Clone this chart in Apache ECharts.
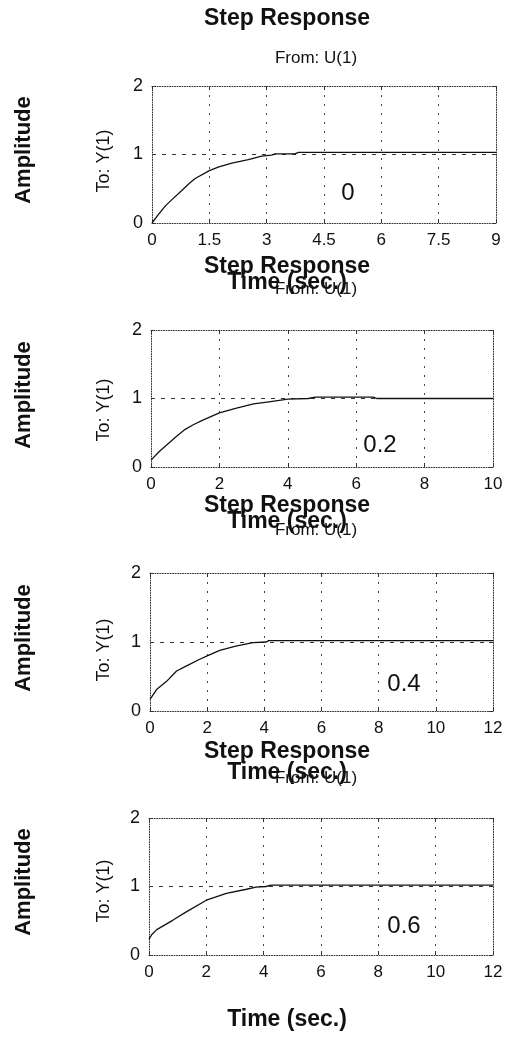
<!DOCTYPE html>
<html>
<head>
<meta charset="utf-8">
<script src="https://cdn.jsdelivr.net/npm/echarts@6/dist/echarts.min.js"></script>
<style>
  html, body { margin: 0; padding: 0; background: #fff; }
  #chart { width: 507px; height: 1041px; }
</style>
</head>
<body>
<div id="chart"></div>
<script>
// Step responses of the same loop for four parameter values.
const panelParams = ['0', '0.2', '0.4', '0.6'];

const xTicks1 = ['0', '1.5', '3', '4.5', '6', '7.5', '9'];
const xTicks2 = ['0', '2', '4', '6', '8', '10'];
const xTicks3 = ['0', '2', '4', '6', '8', '10', '12'];
const xTicks4 = ['0', '2', '4', '6', '8', '10', '12'];
const yTicks = ['0', '1', '2'];

const time1 = [0, 0.15, 0.35, 0.5, 0.78, 1.0, 1.13, 1.5, 1.75, 2.09, 2.52, 2.87, 3.0, 3.13, 3.22, 3.74, 3.83, 9];
const resp1 = [0, 0.11, 0.25, 0.33, 0.475, 0.59, 0.65, 0.765, 0.82, 0.875, 0.925, 0.975, 0.985, 0.99, 1.01, 1.01, 1.03, 1.03];

const time2 = [0, 0.25, 0.5, 0.75, 1.0, 1.25, 1.5, 2.0, 2.5, 3.0, 3.5, 4.0, 4.6, 4.8, 6.5, 6.6, 10];
const resp2 = [0.1, 0.23, 0.34, 0.45, 0.55, 0.62, 0.68, 0.79, 0.86, 0.92, 0.955, 0.99, 1.0, 1.02, 1.02, 1.0, 1.0];

const time3 = [0, 0.23, 0.58, 0.93, 1.28, 1.74, 2.0, 2.44, 3.0, 3.6, 4.07, 4.15, 12];
const resp3 = [0.17, 0.31, 0.43, 0.58, 0.655, 0.75, 0.8, 0.88, 0.94, 0.99, 1.0, 1.02, 1.02];

const time4 = [0, 0.1, 0.27, 0.84, 1.3, 2.0, 2.7, 3.4, 3.73, 4.08, 4.25, 12];
const resp4 = [0.23, 0.3, 0.37, 0.51, 0.63, 0.8, 0.9, 0.96, 0.99, 1.0, 1.02, 1.02];

const titleText = 'Step Response';
const inputText = 'From: U(1)';
const outputText = 'To: Y(1)';
const xName = 'Time (sec.)';
const yName = 'Amplitude';

// ---- layout ----
const FONT = '"Liberation Sans", Arial, Helvetica, sans-serif';
const INK = '#111';
const layout = [
  { left: 152, top: 86, width: 344, height: 137 },
  { left: 151, top: 330, width: 342, height: 137 },
  { left: 150, top: 573, width: 343, height: 138 },
  { left: 149, top: 818, width: 344, height: 137 }
];
const titleY = [19, 267, 506, 752];
const inputY = [58, 289, 530, 778];
const xNameY = [283, 522, 773, 1020];
const yNameY = [150, 395, 638, 882];
const outputY = [161, 410, 650, 891];
const paramPos = [[348, 193], [380, 445], [404, 684], [404, 926]];

const panels = [
  { ticks: xTicks1, t: time1, y: resp1 },
  { ticks: xTicks2, t: time2, y: resp2 },
  { ticks: xTicks3, t: time3, y: resp3 },
  { ticks: xTicks4, t: time4, y: resp4 }
];

const borderLine = { show: true, onZero: false, lineStyle: { color: '#333', width: 1, type: [1, 1.5] } };
const tickIn = { show: true, inside: true, length: 4, lineStyle: { color: '#333', width: 1 } };

const grid = [], xAxis = [], yAxis = [], series = [], graphic = [];

function txt(text, x, y, size, weight, rotate) {
  return {
    type: 'text', x: x, y: y, rotation: rotate ? Math.PI / 2 : 0, silent: true,
    style: {
      text: text, fill: INK, font: weight + ' ' + size + 'px ' + FONT,
      align: 'center', verticalAlign: 'middle'
    }
  };
}

panels.forEach(function (p, i) {
  const g = layout[i];
  grid.push({ left: g.left, top: g.top, width: g.width, height: g.height, containLabel: false });
  const xmin = parseFloat(p.ticks[0]);
  const xmax = parseFloat(p.ticks[p.ticks.length - 1]);
  const xstep = parseFloat(p.ticks[1]) - xmin;
  const ymin = parseFloat(yTicks[0]);
  const ymax = parseFloat(yTicks[yTicks.length - 1]);
  const ystep = parseFloat(yTicks[1]) - ymin;

  xAxis.push({
    gridIndex: i, type: 'value', position: 'bottom', min: xmin, max: xmax, interval: xstep,
    axisLine: borderLine, axisTick: tickIn,
    axisLabel: {
      show: true, margin: 9, color: INK, fontFamily: FONT, fontSize: 17,
      formatter: function (v) { return String(Math.round(v * 100) / 100); }
    },
    splitLine: {
      show: true, showMinLine: false, showMaxLine: false,
      lineStyle: { color: '#444', width: 1, type: [2, 7] }
    }
  });
  xAxis.push({
    gridIndex: i, type: 'value', position: 'top', min: xmin, max: xmax, interval: xstep,
    axisLine: borderLine, axisTick: tickIn, axisLabel: { show: false }, splitLine: { show: false }
  });
  yAxis.push({
    gridIndex: i, type: 'value', position: 'left', min: ymin, max: ymax, interval: ystep,
    axisLine: borderLine, axisTick: tickIn,
    axisLabel: { show: true, margin: 9, color: INK, fontFamily: FONT, fontSize: 18 },
    splitLine: {
      show: true, showMinLine: false, showMaxLine: false,
      lineStyle: { color: '#333', width: 1, type: [4, 6] }
    }
  });
  yAxis.push({
    gridIndex: i, type: 'value', position: 'right', min: ymin, max: ymax, interval: ystep,
    axisLine: borderLine, axisTick: tickIn, axisLabel: { show: false }, splitLine: { show: false }
  });

  series.push({
    type: 'line', xAxisIndex: i * 2, yAxisIndex: i * 2,
    data: p.t.map(function (t, k) { return [t, p.y[k]]; }),
    showSymbol: false, smooth: false, animation: false,
    lineStyle: { color: INK, width: 1.3 }
  });

  graphic.push(txt(titleText, 287, titleY[i], 23, 'bold', false));
  graphic.push(txt(inputText, 316, inputY[i], 17, 'normal', false));
  graphic.push(txt(xName, 287, xNameY[i], 23, 'bold', false));
  graphic.push(txt(yName, 24, yNameY[i], 22, 'bold', true));
  graphic.push(txt(outputText, 104, outputY[i], 18, 'normal', true));
  graphic.push(txt(panelParams[i], paramPos[i][0], paramPos[i][1], 24, 'normal', false));
});

const chart = echarts.init(document.getElementById('chart'), null, { renderer: 'canvas' });
chart.setOption({
  backgroundColor: '#fff',
  animation: false,
  grid: grid, xAxis: xAxis, yAxis: yAxis, series: series, graphic: graphic
});
</script>
</body>
</html>
